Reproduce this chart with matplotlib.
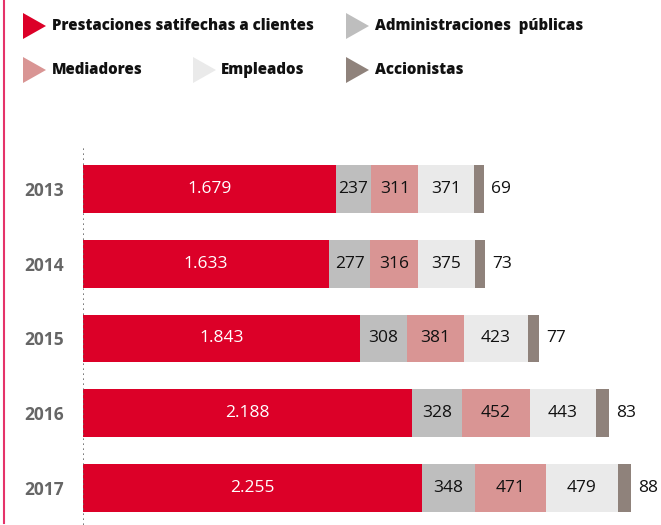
import matplotlib.pyplot as plt
from matplotlib.patches import Polygon
import numpy as np

# datos
years = ['2013', '2014', '2015', '2016', '2017']
series = ['Prestaciones satifechas a clientes', 'Administraciones  públicas',
          'Mediadores', 'Empleados', 'Accionistas']
clientes = [1679, 1633, 1843, 2188, 2255]
administraciones = [237, 277, 308, 328, 348]
mediadores = [311, 316, 381, 452, 471]
empleados = [371, 375, 423, 443, 479]
accionistas = [69, 73, 77, 83, 88]

colores = ['#dc0028', '#bebebe', '#d99594', '#eaeaea', '#8f827b']
valores = [clientes, administraciones, mediadores, empleados, accionistas]

fig = plt.figure(figsize=(6.61, 5.25), dpi=100)
W, H = 661, 525

# fondo en pixeles para la leyenda y la linea lateral
bg = fig.add_axes([0, 0, 1, 1])
bg.set_xlim(0, W)
bg.set_ylim(H, 0)
bg.axis('off')
bg.plot([3.5, 3.5], [0, 523], color='#e5336a', lw=1.5)

leyenda = [(23, 26, 52), (346, 26, 375), (23, 70, 52), (193, 70, 221), (346, 70, 375)]
for (tx, ty, lx), nombre, c in zip(leyenda, series, colores):
    bg.add_patch(Polygon([[tx, ty - 13], [tx, ty + 13], [tx + 23, ty]],
                         closed=True, color=c, lw=0))
    bg.text(lx, ty, nombre, ha='left', va='center', fontsize=10.8,
            fontweight=800, fontstretch='condensed', family='Open Sans',
            color='#111111')

# grafico de barras apiladas
ax = fig.add_axes([83 / W, 0, 1 - 83 / W, (H - 146) / H])
y = np.arange(len(years))
izq = np.zeros(len(years))
for i, (vals, c) in enumerate(zip(valores, colores)):
    vals = np.array(vals)
    ax.barh(y, vals, left=izq, height=0.64, color=c, zorder=2)
    for yi, l, v in zip(y, izq, vals):
        if i == 0:
            ax.text(l + v / 2, yi, f'{v / 1000:.3f}', ha='center', va='center',
                    color='white', fontsize=12.5, family='Open Sans')
        elif i == 4:
            ax.annotate(str(v), (l + v, yi), xytext=(5, 0), textcoords='offset points',
                        ha='left', va='center', color='#111111', fontsize=12.5,
                        family='Open Sans')
        else:
            ax.text(l + v / 2, yi, str(v), ha='center', va='center',
                    color='#111111', fontsize=12.5, family='Open Sans')
    izq += vals

ax.set_xlim(0, 3840)
ax.set_ylim(4.495, -0.575)
ax.axvline(0, color='#666666', lw=1.2, ls=(0, (1, 2)), zorder=3)
for s in ax.spines.values():
    s.set_visible(False)
ax.set_xticks([])
ax.set_yticks(y)
ax.set_yticklabels(years, fontsize=12.5, fontweight='bold', fontstretch='normal',
                   color='#666666', family='Open Sans')
ax.tick_params(axis='y', length=0, pad=14)

fig.savefig('out.png', dpi=100)
